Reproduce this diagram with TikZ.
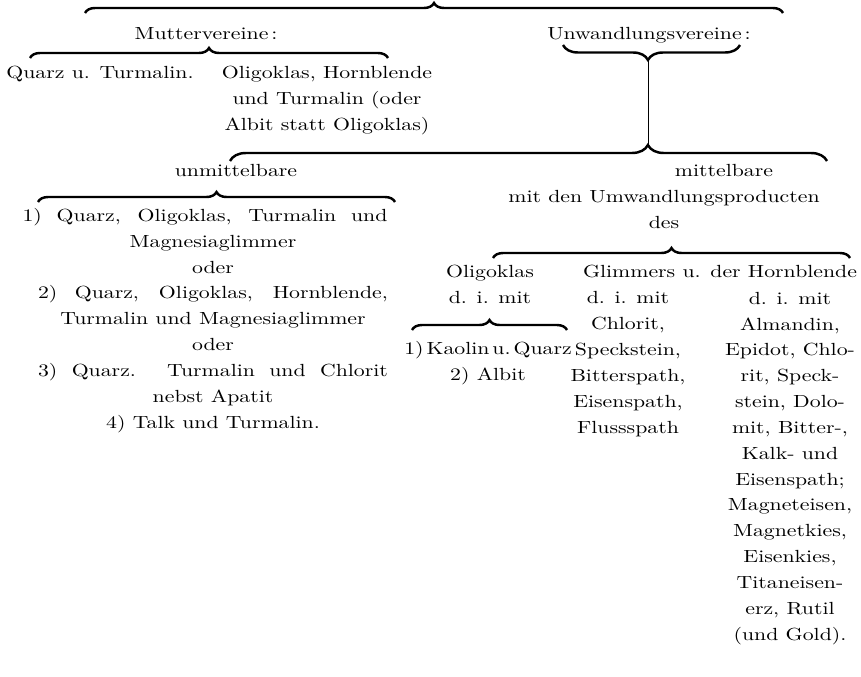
\documentclass[tikz,border=0pt]{standalone}
\usepackage{fontspec}
\setmainfont{lmroman10-regular.otf}[FakeStretch=1.24]
\usetikzlibrary{decorations.pathreplacing}

\begin{document}
\begin{tikzpicture}[x=0.02cm, y=-0.02cm,
  klammer/.style={decorate, decoration={brace, amplitude=#1}, line width=1.4pt},
  klammer/.default={0.2cm},
  txt/.style={anchor=base, inner sep=0pt, align=center, font=\fontsize{10}{14.7}\selectfont}]
\useasboundingbox (0,0) rectangle (861,676);

%Obere Klammer
\draw[klammer] (85,13) -- (783,13);
\node[txt] (mutter) at (206,39) {Muttervereine\,:};
\node[txt] (umwandl) at (649,39) {Unwandlungsvereine\,:};

%Muttervereine (base = letzte Zeile)
\draw[klammer] (30,58) -- (388,58);
\node[txt] (quarz) at (100,78) {Quarz u. Turmalin.};
\node[txt] (oligo) at (327,130) {Oligoklas, Hornblende\\und Turmalin (oder\\Albit statt Oligoklas)};

%Umwandlungsvereine
\draw[klammer={0.3cm}, decoration={aspect=0.52}] (740,45) -- (563,45);
\draw[line width=0.4pt] (648,60) -- (648,146);
\draw[klammer={0.32cm}, decoration={aspect=0.7}] (230,161) -- (827,161);
\node[txt] (unmittel) at (236,176) {unmittelbare};
\node[txt] (mittel) at (724,176) {mittelbare};
\node[txt] (umwprod) at (664,228) {mit den Umwandlungsproducten\\des};

%unmittelbare
\draw[klammer] (38,202) -- (395,202);
\node[txt] (liste) at (213,428) {\makebox[7.3cm][s]{1) Quarz, Oligoklas, Turmalin und}\hspace*{0.32cm}\\
  Magnesiaglimmer\\oder\\
  \makebox[7cm][s]{2) Quarz, Oligoklas, Hornblende,}\\
  Turmalin und Magnesiaglimmer\\oder\\
  \makebox[7cm][s]{3) Quarz. Turmalin und Chlorit}\\
  nebst Apatit\\4) Talk und Turmalin.};

%mittelbare
\draw[klammer] (493,258) -- (850,258);
\node[txt] (oligkl) at (490,303) {Oligoklas\\d. i. mit};
\node[txt] (glimhorn) at (720,277) {Glimmers u. der Hornblende};
\draw[klammer] (412,330) -- (567,330);
\node[txt] (kaolin) at (488,380) {1)\,Kaolin\,u.\,Quarz\\2) Albit};
\node[txt] (glimcol) at (628,433) {d. i. mit\\Chlorit,\\Speckstein,\\Bitterspath,\\Eisenspath,\\Flussspath};
\node[txt] (horncol) at (790,640) {d. i. mit\\Almandin,\\Epidot, Chlo-\\rit, Speck-\\stein, Dolo-\\mit, Bitter-,\\Kalk- und\\Eisenspath;\\Magneteisen,\\Magnetkies,\\Eisenkies,\\Titaneisen-\\erz, Rutil\\(und Gold).};
\end{tikzpicture}
\end{document}
